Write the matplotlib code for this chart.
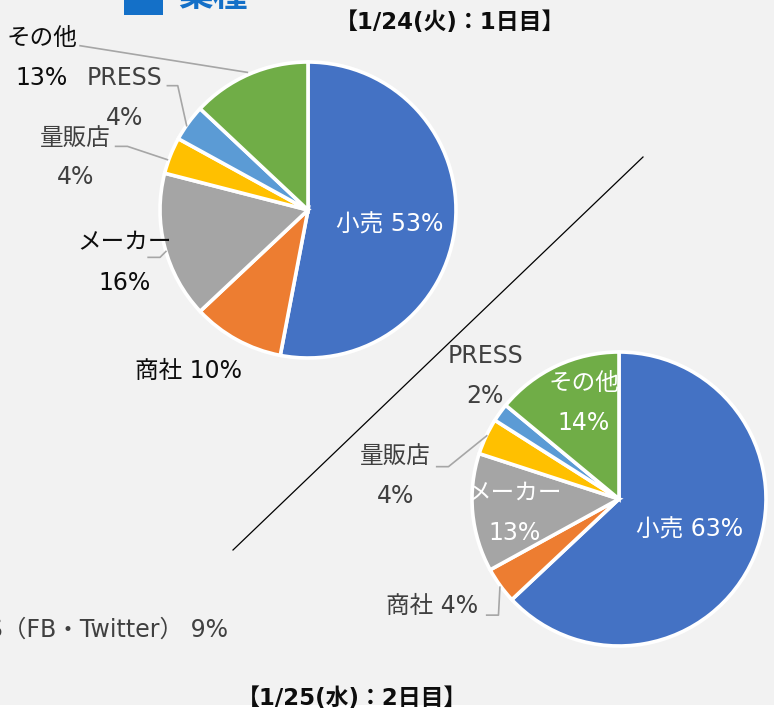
import matplotlib.pyplot as plt
from matplotlib.patches import Rectangle

plt.rcParams['font.family'] = ['DejaVu Sans', 'Noto Sans CJK JP']

# data
categories = ['小売', '商社', 'メーカー', '量販店', 'PRESS', 'その他']
day1 = [53, 10, 16, 4, 4, 13]
day2 = [63, 4, 13, 4, 2, 14]
colors = ['#4472C4', '#ED7D31', '#A5A5A5', '#FFC000', '#5B9BD5', '#70AD47']
titles = ['【1/24(火)：1日目】', '【1/25(水)：2日目】']
header = '業種'
sns_label = 'SNS（FB・Twitter） 9%'

W, H = 774, 717
FS = 17
fig = plt.figure(figsize=(W / 100, H / 100), dpi=100, facecolor='white')

# background panel
fig.patches.append(Rectangle((0, 12 / H), 1, 1, transform=fig.transFigure,
                             facecolor='#f2f2f2', edgecolor='none', zorder=-5))


def fx(x):
    return x / W


def fy(y):
    return 1 - y / H


def pie_axes(cx, cy, r):
    pad = 5
    ax = fig.add_axes([fx(cx - r - pad), fy(cy + r + pad), 2 * (r + pad) / W, 2 * (r + pad) / H])
    ax.set_zorder(2)
    lim = (r + pad) / r
    return ax, lim


# label layout: (index, x, y, two_line, color), coords in pie radius units
layout1 = [
    (0, 0.55, -0.10, False, 'white'),
    (1, -0.81, -1.09, False, '#0d0d0d'),
    (2, -1.24, -0.22, True, '#0d0d0d'),
    (3, -1.57, 0.49, True, '#404040'),
    (4, -1.24, 0.89, True, '#404040'),
    (5, -1.80, 1.16, True, '#0d0d0d'),
]
layout2 = [
    (0, 0.48, -0.21, False, 'white'),
    (1, -1.27, -0.73, False, '#404040'),
    (2, -0.71, 0.04, True, 'white'),
    (3, -1.52, 0.29, True, '#404040'),
    (4, -0.91, 0.97, True, '#404040'),
    (5, -0.24, 0.79, True, 'white'),
]
leaders1 = [
    [(-1.54, 1.11), (-0.41, 0.93)],
    [(-0.95, 0.84), (-0.88, 0.84), (-0.82, 0.57)],
    [(-1.30, 0.43), (-1.22, 0.43), (-0.95, 0.34)],
    [(-1.08, -0.32), (-1.0, -0.32), (-0.96, -0.28)],
]
leaders2 = [
    [(-1.24, 0.22), (-1.16, 0.22), (-0.90, 0.43)],
    [(-0.90, -0.79), (-0.82, -0.79), (-0.81, -0.60)],
]


def draw_pie(cx, cy, r, values, layout, leaders):
    ax, lim = pie_axes(cx, cy, r)
    ax.pie(values, colors=colors, startangle=90, counterclock=False,
           wedgeprops=dict(edgecolor='white', linewidth=2.6))
    ax.set_xlim(-lim, lim)
    ax.set_ylim(-lim, lim)
    ax.set_aspect('equal')
    ax.axis('off')
    dy = 40 / r
    for i, x, y, two, c in layout:
        if two:
            ax.text(x, y, categories[i], ha='center', va='center', fontsize=FS, color=c, clip_on=False)
            ax.text(x, y - dy, f'{values[i]}%', ha='center', va='center', fontsize=FS, color=c, clip_on=False)
        else:
            ax.text(x, y, f'{categories[i]} {values[i]}%', ha='center', va='center',
                    fontsize=FS, color=c, clip_on=False)
    for pts in leaders:
        xs = [p[0] for p in pts]
        ys = [p[1] for p in pts]
        ax.plot(xs, ys, color='#a6a6a6', lw=1.2, clip_on=False)
    return ax


draw_pie(308, 210, 148, day1, layout1, leaders1)
draw_pie(619, 499, 147, day2, layout2, leaders2)

# divider
fig.add_artist(plt.Line2D([fx(643), fx(233)], [fy(157), fy(550)], color='black', lw=0.9))

# titles
fig.text(fx(450), fy(22), titles[0], ha='center', va='center', fontsize=16.5, fontweight='bold', color='#0d0d0d')
fig.text(fx(352), fy(699), titles[1], ha='center', va='center', fontsize=16.5, fontweight='bold', color='#0d0d0d')

# cut-off header
fig.patches.append(Rectangle((fx(124), fy(15)), 39 / W, 30 / H, transform=fig.transFigure,
                             facecolor='#1470c8', edgecolor='none'))
fig.text(fx(178), fy(-4), header, ha='left', va='center', fontsize=25, fontweight='bold', color='#1470c8')

# cut-off legend text at left
fig.text(fx(228), fy(630), sns_label, ha='right', va='center', fontsize=FS, color='#404040')

fig.savefig('out.png', dpi=100, facecolor='white')
